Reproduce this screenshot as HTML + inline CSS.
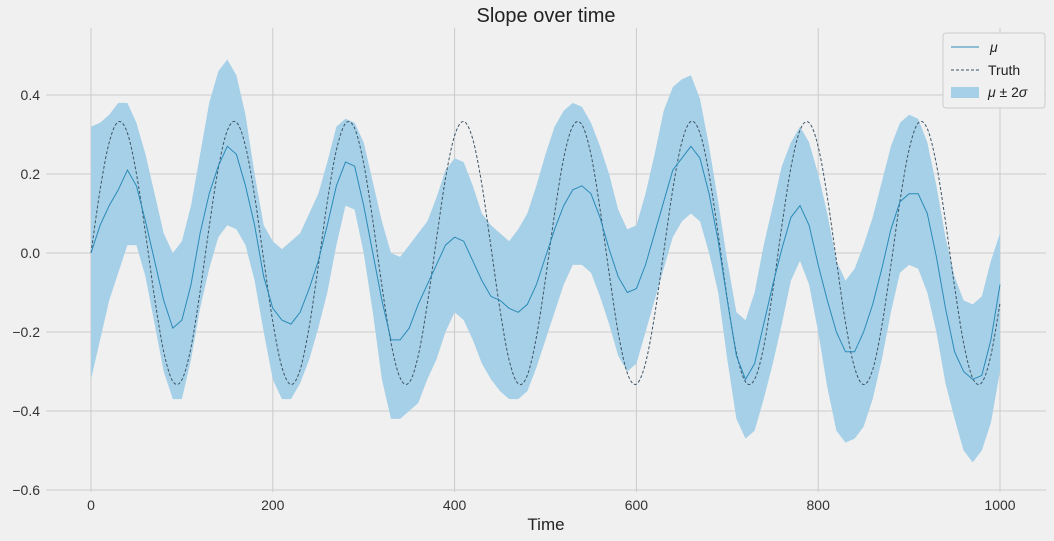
<!DOCTYPE html>
<html><head><meta charset="utf-8"><style>
body{margin:0;background:#f0f0f0;}
svg{display:block;font-family:"Liberation Sans","DejaVu Sans",sans-serif;}
</style></head><body>
<svg id="chart" width="1054" height="541">
<rect width="1054" height="541" fill="#f0f0f0"/>
<text x="546" y="22" font-size="20" text-anchor="middle" fill="#222">Slope over time</text>
<g id="grid"></g>
<g id="series"></g>
<g id="ticks"></g>
<text x="546" y="530" font-size="17" text-anchor="middle" fill="#222">Time</text>
<g>
<rect x="943" y="33" width="102" height="75" rx="3" fill="#f0f0f0" stroke="#ccc"/>
<line x1="951" y1="47" x2="979" y2="47" stroke="#2a8ab8" stroke-width="1"/>
<text x="990" y="52" font-size="14" font-style="italic" fill="#222">μ</text>
<line x1="951" y1="70" x2="979" y2="70" stroke="#3d5566" stroke-width="1" stroke-dasharray="3,2"/>
<text x="988" y="75" font-size="14" fill="#222">Truth</text>
<rect x="951" y="87" width="28" height="11" fill="#a6d0e7"/>
<text x="988" y="97" font-size="14" fill="#222"><tspan font-style="italic">μ</tspan> ± 2<tspan font-style="italic">σ</tspan></text>
</g>
</svg>
<script>
const times=[];for(let i=0;i<=100;i++)times.push(i*10);
const muValues=[0,.07,.12,.16,.21,.17,.08,-.02,-.12,-.19,-.17,-.08,.05,.15,.22,.27,.25,.17,.07,-.06,-.14,-.17,-.18,-.15,-.09,-.02,.07,.17,.23,.22,.12,0,-.12,-.22,-.22,-.19,-.13,-.08,-.03,.02,.04,.03,-.02,-.07,-.11,-.12,-.14,-.15,-.13,-.08,-.01,.06,.12,.16,.17,.15,.09,.01,-.06,-.10,-.09,-.03,.05,.13,.21,.24,.27,.24,.15,.03,-.12,-.26,-.32,-.28,-.18,-.08,.01,.09,.12,.07,-.03,-.12,-.20,-.25,-.25,-.20,-.13,-.04,.06,.13,.15,.15,.10,-.01,-.14,-.25,-.30,-.32,-.31,-.22,-.08];
const upperValues=[.32,.33,.35,.38,.38,.33,.25,.15,.05,0,.03,.12,.25,.38,.46,.49,.45,.35,.20,.07,.03,.01,.03,.05,.10,.15,.23,.32,.34,.33,.28,.18,.08,0,-.01,.02,.05,.08,.14,.21,.24,.23,.17,.10,.07,.05,.03,.06,.10,.17,.25,.32,.36,.38,.37,.33,.27,.20,.11,.06,.07,.15,.25,.36,.42,.44,.45,.39,.27,.13,-.02,-.15,-.17,-.10,.02,.12,.22,.28,.32,.28,.20,.10,-.02,-.07,-.04,.02,.09,.18,.27,.33,.35,.34,.28,.17,.04,-.06,-.12,-.13,-.11,-.02,.05];
const lowerValues=[-.32,-.22,-.12,-.05,.02,.02,-.06,-.18,-.30,-.37,-.37,-.27,-.14,-.04,.04,.07,.06,.02,-.07,-.20,-.32,-.37,-.37,-.33,-.27,-.19,-.10,.02,.12,.11,0,-.15,-.32,-.42,-.42,-.40,-.38,-.32,-.27,-.20,-.15,-.17,-.22,-.28,-.32,-.35,-.37,-.37,-.35,-.29,-.22,-.15,-.08,-.03,-.03,-.05,-.11,-.18,-.26,-.30,-.28,-.20,-.12,-.04,.04,.08,.10,.08,0,-.10,-.27,-.42,-.47,-.45,-.37,-.28,-.18,-.07,-.02,-.08,-.20,-.34,-.45,-.48,-.47,-.44,-.37,-.27,-.15,-.05,-.03,-.04,-.10,-.20,-.33,-.42,-.50,-.53,-.50,-.43,-.30];
const truthValues=[0,.160,.280,.332,.304,.201,.050,-.114,-.250,-.325,-.321,-.239,-.098,.066,.214,.310,.331,.270,.144,-.017,-.174,-.289,-.333,-.296,-.187,-.033,.130,.261,.328,.316,.226,.082,-.083,-.227,-.316,-.328,-.260,-.129,.034,.189,.297,.333,.288,.173,.015,-.145,-.271,-.331,-.310,-.213,-.065,.100,.240,.321,.325,.249,.112,-.051,-.202,-.304,-.332,-.279,-.158,.002,.161,.281,.333,.303,.199,.047,-.116,-.252,-.326,-.320,-.238,-.096,.068,.216,.311,.330,.269,.142,-.019,-.176,-.290,-.333,-.295,-.185,-.031,.132,.262,.329,.315,.225,.080,-.085,-.228,-.317,-.328,-.259,-.127];
const xTicks=[0,200,400,600,800,1000];
const yTicks=[-0.6,-0.4,-0.2,0,0.2,0.4];
const yTickLabels=["−0.6","−0.4","−0.2","0.0","0.2","0.4"];

const NS="http://www.w3.org/2000/svg";
const X=t=>91+t*0.909;
const Y=v=>253-v*395;
function mk(tag,attrs,parent){const e=document.createElementNS(NS,tag);for(const k in attrs)e.setAttribute(k,attrs[k]);parent.appendChild(e);return e;}
const grid=document.getElementById('grid'),series=document.getElementById('series'),ticks=document.getElementById('ticks');
xTicks.forEach(t=>{
  const l=mk('line',{x1:X(t),x2:X(t),y1:28,y2:492,stroke:'#cbcbcb','stroke-width':1},grid);
  
  
  const tx=mk('text',{x:X(t),y:510,'font-size':14,'text-anchor':'middle',fill:'#333'},ticks);
  tx.textContent=String(t);
  
  
});
yTicks.forEach((v,i)=>{
  const l=mk('line',{x1:46,x2:1046,y1:Y(v),y2:Y(v),stroke:'#cbcbcb','stroke-width':1},grid);
  
  
  const tx=mk('text',{x:40,y:Y(v)+5,'font-size':14,'text-anchor':'end',fill:'#333'},ticks);
  tx.textContent=yTickLabels[i];
  
  
});
let d='';
times.forEach((t,i)=>{d+=(i?'L':'M')+X(t).toFixed(1)+','+Y(upperValues[i]).toFixed(1);});
for(let i=times.length-1;i>=0;i--)d+='L'+X(times[i]).toFixed(1)+','+Y(lowerValues[i]).toFixed(1);
const band=mk('path',{d:d+'Z',fill:'#a6d0e7'},series);


const line=(vals)=>times.map((t,i)=>(i?'L':'M')+X(t).toFixed(1)+','+Y(vals[i]).toFixed(1)).join('');
function smooth(vals){
  const p=times.map((t,i)=>[X(t),Y(vals[i])]);
  let s='M'+p[0][0].toFixed(1)+','+p[0][1].toFixed(1);
  for(let i=0;i<p.length-1;i++){
    const p0=p[Math.max(0,i-1)],p1=p[i],p2=p[i+1],p3=p[Math.min(p.length-1,i+2)];
    const c1=[p1[0]+(p2[0]-p0[0])/6,p1[1]+(p2[1]-p0[1])/6];
    const c2=[p2[0]-(p3[0]-p1[0])/6,p2[1]-(p3[1]-p1[1])/6];
    s+='C'+c1[0].toFixed(1)+','+c1[1].toFixed(1)+' '+c2[0].toFixed(1)+','+c2[1].toFixed(1)+' '+p2[0].toFixed(1)+','+p2[1].toFixed(1);
  }
  return s;
}
const tr=mk('path',{d:smooth(truthValues),fill:'none',stroke:'#3d5566','stroke-width':1,'stroke-dasharray':'3,2'},series);


const mu=mk('path',{d:line(muValues),fill:'none',stroke:'#2a8ab8','stroke-width':1},series);


</script>
</body></html>
